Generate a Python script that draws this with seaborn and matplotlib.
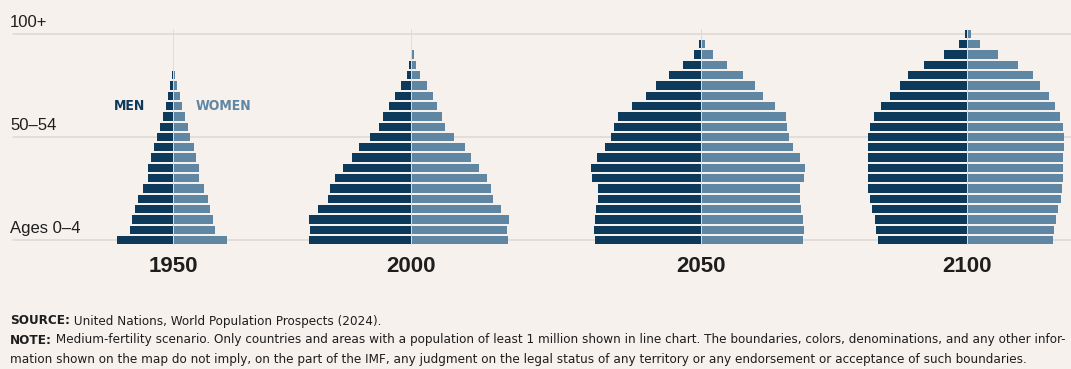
import matplotlib
matplotlib.use("Agg")
import matplotlib.pyplot as plt
import seaborn as sns
import pandas as pd
import numpy as np
from matplotlib import font_manager
from matplotlib.font_manager import FontProperties

sns.set_theme(style="white")

# ---------------- data (millions, approx.) ----------------
ages = ["0–4", "5–9", "10–14", "15–19", "20–24", "25–29", "30–34", "35–39",
        "40–44", "45–49", "50–54", "55–59", "60–64", "65–69", "70–74", "75–79",
        "80–84", "85–89", "90–94", "95–99", "100+"]
years = ["1950", "2000", "2050", "2100"]

men_1950 = [173, 134, 128, 118, 108, 93, 78, 77, 69, 60, 50, 39, 32, 22, 15, 8, 4, 1, 0.2, 0.05, 0.01]
women_1950 = [167, 130, 123, 116, 108, 97, 82, 80, 72, 64, 54, 46, 37, 29, 21, 12, 7, 1, 0.3, 0.05, 0.01]

men_2000 = [316, 313, 315, 288, 258, 250, 235, 212, 183, 161, 127, 98, 86, 67, 50, 30, 13, 5, 1, 0.3, 0.1]
women_2000 = [301, 299, 303, 280, 253, 248, 235, 212, 186, 166, 133, 106, 97, 82, 67, 49, 28, 16, 8, 1.5, 0.3]

men_2050 = [330, 331, 329, 325, 320, 320, 338, 341, 322, 298, 279, 270, 256, 215, 171, 139, 98, 55, 21, 6, 1]
women_2050 = [317, 318, 315, 311, 308, 307, 320, 322, 307, 286, 273, 268, 264, 230, 192, 167, 129, 82, 38, 12, 2]

men_2100 = [276, 281, 286, 294, 302, 307, 308, 308, 306, 307, 307, 301, 287, 266, 240, 208, 182, 134, 72, 26, 5]
women_2100 = [267, 271, 277, 283, 290, 295, 297, 298, 298, 300, 301, 299, 289, 274, 253, 226, 205, 158, 96, 41, 11]

men = {"1950": men_1950, "2000": men_2000, "2050": men_2050, "2100": men_2100}
women = {"1950": women_1950, "2000": women_2000, "2050": women_2050, "2100": women_2100}

grid_labels = {"0–4": "Ages 0–4", "50–54": "50–54", "100+": "100+"}

# ---------------- style ----------------
BG = "#f7f1ee"
MEN_C = "#0d3a5b"
WOMEN_C = "#5f86a3"
GRID_C = "#ddd8d5"
TXT = "#1e1e1e"
MAIN = "Liberation Sans"


def find_condensed(bold):
    best = None
    for f in font_manager.fontManager.ttflist:
        nm = f.name
        fn = f.fname.lower()
        is_cond = ("narrow" in nm.lower() or "condensed" in nm.lower()
                   or "condensed" in fn or "narrow" in fn
                   or str(f.stretch) in ("condensed", "semi-condensed"))
        if not is_cond:
            continue
        if "oblique" in fn or "italic" in fn or f.style != "normal":
            continue
        w = f.weight if isinstance(f.weight, int) else (700 if "bold" in str(f.weight) else 400)
        if bold and w < 600:
            continue
        if not bold and w >= 600:
            continue
        if "light" in fn or "extralight" in fn:
            continue
        score = 0 if "liberation" in fn else (1 if "dejavusans" in fn.replace("-", "") else 2)
        if best is None or score < best[0]:
            best = (score, f.fname)
    return best[1] if best else None


reg_file = find_condensed(False)
bold_file = find_condensed(True)


def fp(size, bold=False):
    f = bold_file if bold else reg_file
    if f:
        return FontProperties(fname=f, size=size)
    return FontProperties(family=MAIN, size=size, weight="bold" if bold else "normal")


W, H = 1071, 369
fig = plt.figure(figsize=(W / 100, H / 100), dpi=100)
fig.patch.set_facecolor(BG)

order = ages[::-1]  # top to bottom
row_px = 10.3
y0_px = 240  # pixel (from top) of the 0-4 row
n = len(ages)
ax_bottom = (H - y0_px - 0.5 * row_px) / H
ax_height = (n * row_px) / H

# background axes for gridlines and age labels
bg = fig.add_axes([0, ax_bottom, 1, ax_height])
bg.set_facecolor(BG)
bg.set_xlim(0, W)
bg.set_ylim(n - 0.5, -0.5)
for lab, txt in grid_labels.items():
    pos = order.index(lab)
    bg.plot([13, W], [pos, pos], color=GRID_C, lw=1.1, zorder=0)
    bg.text(10, pos - 0.35, txt, ha="left", va="bottom", fontsize=12,
            family=MAIN, color=TXT)
bg.axis("off")

# pyramids
centers = {"1950": 173, "2000": 411, "2050": 701, "2100": 967}
L = 360.0
scale = 3.1  # millions per pixel
axw = 2 * L / scale
for yr in years:
    c = centers[yr]
    ax = fig.add_axes([(c - axw / 2) / W, ax_bottom, axw / W, ax_height])
    df = pd.DataFrame({"age": ages, "men": men[yr], "women": women[yr]})
    df["men_neg"] = -df["men"]
    sns.barplot(data=df, x="men_neg", y="age", order=order, color=MEN_C,
                orient="h", width=0.8, saturation=1, ax=ax, linewidth=0)
    sns.barplot(data=df, x="women", y="age", order=order, color=WOMEN_C,
                orient="h", width=0.8, saturation=1, ax=ax, linewidth=0)
    ax.axvline(0, color="#d9dfe4", lw=0.7, zorder=5)
    ax.set_xlim(-L, L)
    ax.set_ylim(n - 0.5, -0.5)
    ax.patch.set_alpha(0)
    ax.axis("off")
    ax.text(0, n - 0.5 + 1.05, yr, ha="center", va="top", fontsize=16,
            fontweight="bold", family=MAIN, color=TXT, clip_on=False)
    if yr == "1950":
        ax.text(-87, 7.0, "MEN", ha="right", va="center",
                fontproperties=fp(10, True), color=MEN_C)
        ax.text(71, 7.0, "WOMEN", ha="left", va="center",
                fontproperties=fp(10, True), color=WOMEN_C)

# footer
renderer = fig.canvas.get_renderer()
lines = [
    ("SOURCE:", " United Nations, World Population Prospects (2024)."),
    ("NOTE:", " Medium-fertility scenario. Only countries and areas with a population of least 1 million shown in line chart. The boundaries, colors, denominations, and any other infor-"),
    ("", "mation shown on the map do not imply, on the part of the IMF, any judgment on the legal status of any territory or any endorsement or acceptance of such boundaries."),
]
ys = [321, 340, 359]


def draw_footer(size):
    arts = []
    right = 0
    for (b, r), ypx in zip(lines, ys):
        yf = 1 - ypx / H
        x = 10 / W
        if b:
            t = fig.text(x, yf, b, ha="left", va="center",
                         fontproperties=fp(size, True), color=TXT)
            arts.append(t)
            bb = t.get_window_extent(renderer=renderer)
            x = bb.x1 / W
        t2 = fig.text(x, yf, r, ha="left", va="center",
                      fontproperties=fp(size), color=TXT)
        arts.append(t2)
        right = max(right, t2.get_window_extent(renderer=renderer).x1)
    return arts, right


size = 9.0
arts, right = draw_footer(size)
target = 1066
for _ in range(3):
    if abs(right - target) < 3:
        break
    for a in arts:
        a.remove()
    size = size * (target - 10) / (right - 10)
    arts, right = draw_footer(size)

fig.savefig("out.png", dpi=100, facecolor=BG)
